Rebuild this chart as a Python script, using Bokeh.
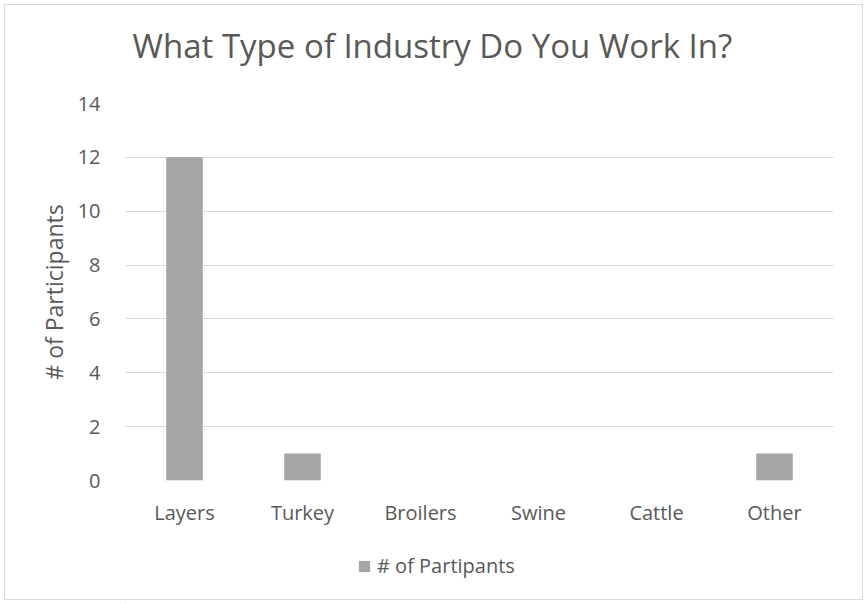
from bokeh.plotting import figure
from bokeh.layouts import column
from bokeh.models import ColumnDataSource, Legend, LegendItem, FixedTicker, Range1d, Label
from bokeh.embed import file_html
from bokeh.resources import INLINE

categories = ["Layers", "Turkey", "Broilers", "Swine", "Cattle", "Other"]
participants = [12, 1, 0, 0, 0, 1]
y_ticks = [0, 2, 4, 6, 8, 10, 12, 14]
series_name = "# of Partipants"
title_text = "What Type of Industry Do You Work In?"

TEXT = "#595959"
GRID = "#D9D9D9"
BAR = "#A5A5A5"
FONT = "Open Sans"


def strip(h):
    f = figure(x_range=Range1d(0, 708), y_range=Range1d(0, h),
               width=867, height=h, output_backend="svg", toolbar_location=None,
               min_border=0, x_axis_location=None, y_axis_location=None)
    f.border_fill_color = None
    f.background_fill_color = None
    f.outline_line_color = None
    f.grid.grid_line_color = None
    return f


# ---- title strip ------------------------------------------------------
t = strip(80)
t.add_layout(Label(x=7, y=35, text=title_text, text_align="left",
                   text_baseline="alphabetic", text_font=FONT,
                   text_font_size="33px", text_color=TEXT))

# ---- main chart -------------------------------------------------------
src = ColumnDataSource(dict(cat=categories, val=participants))
p = figure(
    x_range=categories, y_range=Range1d(0, 14),
    width=867, height=465, output_backend="svg", toolbar_location=None,
    min_border_left=125, min_border_right=34, min_border_top=23, min_border_bottom=65,
)
p.border_fill_color = None
p.outline_line_color = None
p.x_range.range_padding = 0

r = p.vbar(x="cat", top="val", width=0.31, source=src, fill_color=BAR, line_color=None)

p.yaxis.ticker = FixedTicker(ticks=y_ticks)
p.yaxis.axis_label = "# of Participants"
p.yaxis.axis_label_text_font = FONT
p.yaxis.axis_label_text_font_style = "normal"
p.yaxis.axis_label_text_font_size = "23px"
p.yaxis.axis_label_text_color = TEXT
p.yaxis.axis_label_standoff = 5

for ax in (p.xaxis, p.yaxis):
    ax.axis_line_color = None
    ax.major_tick_line_color = None
    ax.minor_tick_line_color = None
    ax.major_label_text_font = FONT
    ax.major_label_text_font_size = "20px"
    ax.major_label_text_color = TEXT
p.yaxis.major_label_standoff = 19
p.xaxis.major_label_standoff = 12

p.xgrid.grid_line_color = None
p.ygrid.grid_line_color = GRID
p.ygrid.grid_line_width = 1
p.ygrid.ticker = FixedTicker(ticks=y_ticks)

# ---- legend strip -----------------------------------------------------
q = strip(59)
lr = q.vbar(x=[-100], top=[1], width=1, fill_color=BAR, line_color=None)
legend = Legend(items=[LegendItem(label=series_name, renderers=[lr])],
                location=(232, 25), padding=0, margin=0, spacing=0,
                glyph_width=14, glyph_height=14, label_standoff=6,
                border_line_color=None, background_fill_alpha=0,
                label_text_font=FONT, label_text_font_size="20px", label_text_color=TEXT)
q.add_layout(legend, "center")

layout = column(t, p, q, spacing=0,
                styles={"outline": "1px solid #D9D9D9", "outline-offset": "-5px"})

open("out.html", "w").write(file_html(layout, INLINE))
